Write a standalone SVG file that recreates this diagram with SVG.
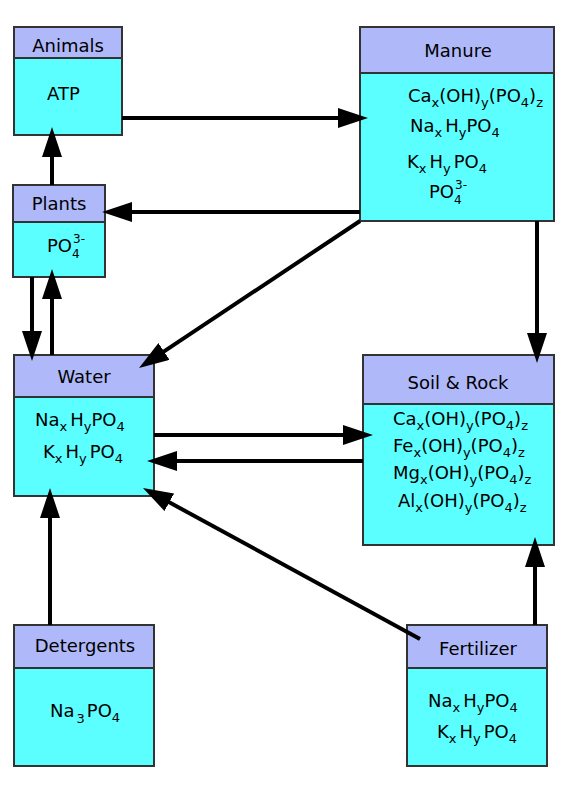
<svg xmlns="http://www.w3.org/2000/svg" width="570" height="800" viewBox="0 0 570 800">
<defs>
<style>
.hd{fill:#AFB9F9;stroke:#333;stroke-width:2}
.bd{fill:#5CFFFF;stroke:#333;stroke-width:2}
text{font-family:"DejaVu Sans","Liberation Sans",sans-serif;font-size:18px;fill:#000}
.c{text-anchor:middle}
.s{font-size:13px}
.t{font-size:12px}
.ln{stroke:#000;stroke-width:4;fill:none;marker-end:url(#ah)}
</style>
<marker id="ah" markerUnits="userSpaceOnUse" markerWidth="30" markerHeight="20" refX="22" refY="10" orient="auto" viewBox="0 0 30 20">
<path d="M0,0 L30,10 L0,20 z" fill="#000"/>
</marker>
</defs>
<rect width="570" height="800" fill="#fff"/>

<g id="animals">
<rect class="bd" x="14" y="27" width="108" height="108"/>
<rect class="hd" x="14" y="27" width="108" height="31"/>
<text class="c" x="68" y="52">Animals</text>
<text x="47" y="100">ATP</text>
</g>

<g id="plants">
<rect class="bd" x="13" y="185" width="92" height="92"/>
<rect class="hd" x="13" y="185" width="92" height="37"/>
<text class="c" x="59" y="210">Plants</text>
<text x="47" y="252">PO<tspan class="t" dy="6">4</tspan></text>
<text class="t" x="73" y="243">3-</text>
</g>

<g id="manure">
<rect class="bd" x="360" y="27" width="194" height="194"/>
<rect class="hd" x="360" y="27" width="194" height="46"/>
<text class="c" x="458" y="57">Manure</text>
<text x="408" y="102">Ca<tspan class="s" dy="5">x</tspan><tspan dy="-5">(OH)</tspan><tspan class="s" dy="5">y</tspan><tspan dy="-5">(PO</tspan><tspan class="s" dy="5">4</tspan><tspan dy="-5">)</tspan><tspan class="s" dy="5">z</tspan></text>
<text x="410" y="132">Na<tspan class="s" dy="5">x</tspan><tspan dx="3" dy="-5">H</tspan><tspan class="s" dy="5">y</tspan><tspan dy="-5">PO</tspan><tspan class="s" dy="5">4</tspan></text>
<text x="407" y="168">K<tspan class="s" dy="5">x</tspan><tspan dx="3" dy="-5">H</tspan><tspan class="s" dy="5">y</tspan><tspan dx="3" dy="-5">PO</tspan><tspan class="s" dy="5">4</tspan></text>
<text x="429" y="198">PO<tspan class="t" dy="6">4</tspan></text>
<text class="t" x="455" y="189">3-</text>
</g>

<g id="water">
<rect class="bd" x="14" y="355" width="140" height="141"/>
<rect class="hd" x="14" y="355" width="140" height="42"/>
<text class="c" x="84" y="383">Water</text>
<text x="35" y="426">Na<tspan class="s" dy="5">x</tspan><tspan dx="3" dy="-5">H</tspan><tspan class="s" dy="5">y</tspan><tspan dy="-5">PO</tspan><tspan class="s" dy="5">4</tspan></text>
<text x="43" y="458">K<tspan class="s" dy="5">x</tspan><tspan dx="3" dy="-5">H</tspan><tspan class="s" dy="5">y</tspan><tspan dx="3" dy="-5">PO</tspan><tspan class="s" dy="5">4</tspan></text>
</g>

<g id="soil">
<rect class="bd" x="363" y="355" width="191" height="190"/>
<rect class="hd" x="363" y="355" width="191" height="49"/>
<text class="c" x="458" y="389">Soil &amp; Rock</text>
<text x="393" y="425">Ca<tspan class="s" dy="5">x</tspan><tspan dy="-5">(OH)</tspan><tspan class="s" dy="5">y</tspan><tspan dy="-5">(PO</tspan><tspan class="s" dy="5">4</tspan><tspan dy="-5">)</tspan><tspan class="s" dy="5">z</tspan></text>
<text x="393" y="452">Fe<tspan class="s" dy="5">x</tspan><tspan dy="-5">(OH)</tspan><tspan class="s" dy="5">y</tspan><tspan dy="-5">(PO</tspan><tspan class="s" dy="5">4</tspan><tspan dy="-5">)</tspan><tspan class="s" dy="5">z</tspan></text>
<text x="393" y="479">Mg<tspan class="s" dy="5">x</tspan><tspan dy="-5">(OH)</tspan><tspan class="s" dy="5">y</tspan><tspan dy="-5">(PO</tspan><tspan class="s" dy="5">4</tspan><tspan dy="-5">)</tspan><tspan class="s" dy="5">z</tspan></text>
<text x="398" y="507">Al<tspan class="s" dy="5">x</tspan><tspan dy="-5">(OH)</tspan><tspan class="s" dy="5">y</tspan><tspan dy="-5">(PO</tspan><tspan class="s" dy="5">4</tspan><tspan dy="-5">)</tspan><tspan class="s" dy="5">z</tspan></text>
</g>

<g id="detergents">
<rect class="bd" x="14" y="625" width="140" height="141"/>
<rect class="hd" x="14" y="625" width="140" height="43"/>
<text class="c" x="85" y="652">Detergents</text>
<text x="50" y="717">Na<tspan class="s" dx="2" dy="6">3</tspan><tspan dx="2" dy="-6">PO</tspan><tspan class="s" dy="5">4</tspan></text>
</g>

<g id="fertilizer">
<rect class="bd" x="407" y="625" width="140" height="141"/>
<rect class="hd" x="407" y="625" width="140" height="43"/>
<text class="c" x="478" y="655">Fertilizer</text>
<text x="428" y="707">Na<tspan class="s" dy="5">x</tspan><tspan dx="3" dy="-5">H</tspan><tspan class="s" dy="5">y</tspan><tspan dy="-5">PO</tspan><tspan class="s" dy="5">4</tspan></text>
<text x="437" y="738">K<tspan class="s" dy="5">x</tspan><tspan dx="3" dy="-5">H</tspan><tspan class="s" dy="5">y</tspan><tspan dx="3" dy="-5">PO</tspan><tspan class="s" dy="5">4</tspan></text>
</g>

<g id="connectors">
<line class="ln" x1="122" y1="118" x2="360" y2="118"/>
<line class="ln" x1="360" y1="212" x2="110" y2="212"/>
<line class="ln" x1="52" y1="185" x2="52" y2="135"/>
<line class="ln" x1="32" y1="277" x2="32" y2="353"/>
<line class="ln" x1="52" y1="355" x2="52" y2="277"/>
<line class="ln" x1="360" y1="221" x2="145.7" y2="363.6"/>
<line class="ln" x1="537" y1="221" x2="537" y2="355"/>
<line class="ln" x1="154" y1="435" x2="365" y2="435"/>
<line class="ln" x1="363" y1="461" x2="155" y2="461"/>
<line class="ln" x1="420" y1="639" x2="150" y2="491.8"/>
<line class="ln" x1="50" y1="625" x2="50" y2="496"/>
<line class="ln" x1="535" y1="625" x2="535" y2="545"/>
</g>
</svg>
